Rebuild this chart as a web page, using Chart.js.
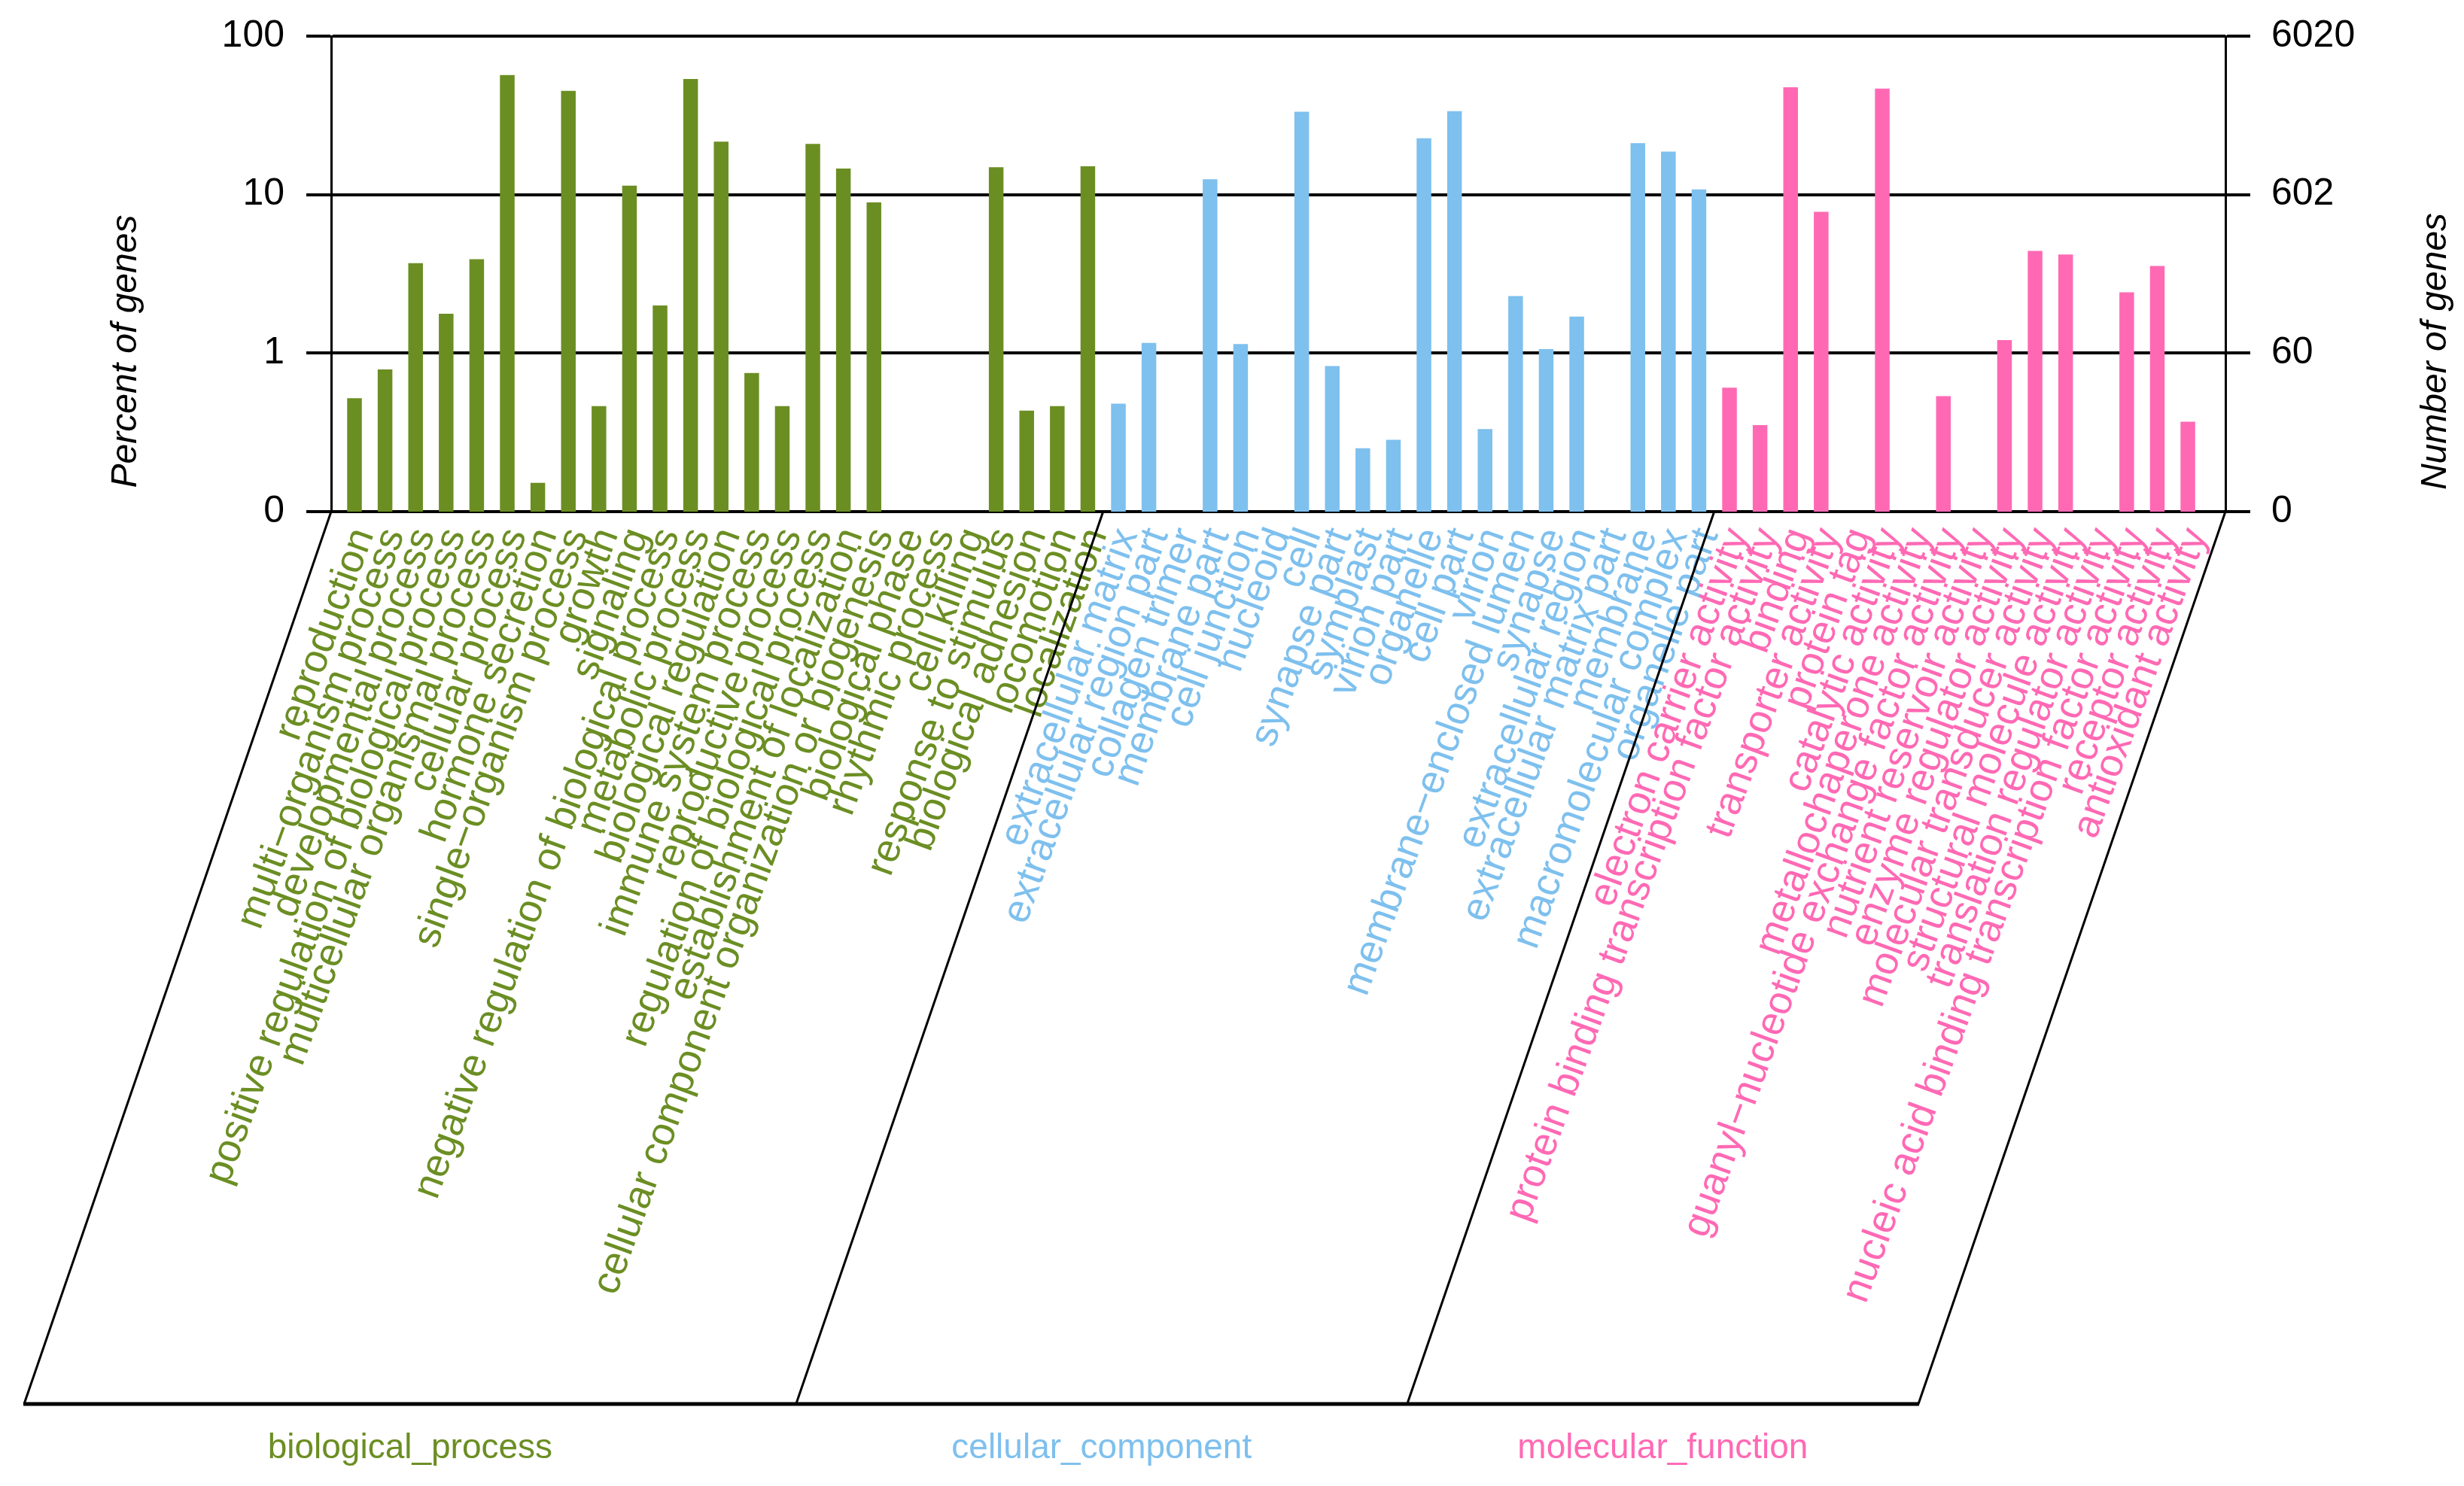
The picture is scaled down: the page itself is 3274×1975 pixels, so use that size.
<!DOCTYPE html>
<html>
<head>
<meta charset="utf-8">
<script src="https://cdn.jsdelivr.net/npm/chart.js@4.4.1/dist/chart.umd.min.js"></script>
<style>
  html, body { margin: 0; padding: 0; background: #fff; }
  #wrap { width: 3274px; height: 1975px; }
</style>
</head>
<body>
<div id="wrap"><canvas id="goChart" width="3274" height="1975"></canvas></div>
<script>
// GO categories, percent of genes (0 = no bar)
const bpLabels = ['reproduction', 'multi\u2212organism process', 'developmental process',
    'positive regulation of biological process', 'multicellular organismal process', 'cellular process',
    'hormone secretion', 'single\u2212organism process', 'growth', 'signaling',
    'negative regulation of biological process', 'metabolic process', 'biological regulation',
    'immune system process', 'reproductive process', 'regulation of biological process',
    'establishment of localization', 'cellular component organization or biogenesis', 'biological phase',
    'rhythmic process', 'cell killing', 'response to stimulus', 'biological adhesion', 'locomotion', 'localization'];
const bpValues = [0.52, 0.79, 3.70, 1.77, 3.91, 56.8, 0.152, 45.1, 0.463, 11.4, 2.00, 53.7, 21.6,
    0.75, 0.463, 20.9, 14.6, 8.92, 0, 0, 0, 14.9, 0.434, 0.463, 15.1];

const ccLabels = ['extracellular matrix', 'extracellular region part', 'collagen trimer', 'membrane part',
    'cell junction', 'nucleoid', 'cell', 'synapse part', 'symplast', 'virion part', 'organelle', 'cell part',
    'virion', 'membrane\u2212enclosed lumen', 'synapse', 'extracellular region', 'extracellular matrix part',
    'membrane', 'macromolecular complex', 'organelle part'];
const ccValues = [0.48, 1.16, 0, 12.5, 1.14, 0, 33.3, 0.83, 0.251, 0.284, 22.7, 33.6, 0.332, 2.29,
    1.06, 1.70, 0, 21.1, 18.7, 10.8];

const mfLabels = ['electron carrier activity', 'protein binding transcription factor activity', 'binding',
    'transporter activity', 'protein tag', 'catalytic activity', 'metallochaperone activity',
    'guanyl\u2212nucleotide exchange factor activity', 'nutrient reservoir activity', 'enzyme regulator activity',
    'molecular transducer activity', 'structural molecule activity', 'translation regulator activity',
    'nucleic acid binding transcription factor activity', 'receptor activity', 'antioxidant activity'];
const mfValues = [0.605, 0.351, 47.6, 7.79, 0, 46.7, 0, 0.536, 0, 1.21, 4.41, 4.19, 0, 2.42, 3.55, 0.369];

const yTicks = [0.1, 1, 10, 100];
const yTickLabels = ['0', '1', '10', '100'];
const y2Ticks = [6.02, 60.2, 602, 6020];
const y2TickLabels = ['0', '60', '602', '6020'];

const groupNames = ['biological_process', 'cellular_component', 'molecular_function'];
const groupColors = ['#6B8E23', '#7EC0EE', '#FF69B4'];

const labels = bpLabels.concat(ccLabels, mfLabels);
const values = bpValues.concat(ccValues, mfValues);
const groupOf = labels.map((_, i) => i < bpLabels.length ? 0 : (i < bpLabels.length + ccLabels.length ? 1 : 2));

Chart.defaults.font.family = '"Liberation Sans", Arial, sans-serif';

// slanted frame under the axis, group names, axis titles
const decor = {
    id: 'decor',
    afterDraw(chart) {
        const { ctx, chartArea, scales } = chart;
        const { left, right, bottom } = chartArea;
        const baseY = 1866;
        const slant = 0.344;
        const tops = [
            left,
            scales.x.getPixelForValue(bpLabels.length - 0.5),
            scales.x.getPixelForValue(bpLabels.length + ccLabels.length - 0.5),
            right
        ];
        const bots = tops.map(t => t - (baseY - bottom) * slant);

        ctx.save();
        ctx.strokeStyle = '#000';
        ctx.lineWidth = 3;
        tops.forEach((t, i) => {
            ctx.beginPath();
            ctx.moveTo(t, bottom);
            ctx.lineTo(bots[i], baseY);
            ctx.stroke();
        });
        ctx.lineWidth = 5;
        ctx.beginPath();
        ctx.moveTo(bots[0] - 1, baseY);
        ctx.lineTo(bots[3] + 1, baseY);
        ctx.stroke();

        ctx.font = '46px "Liberation Sans", Arial, sans-serif';
        ctx.textAlign = 'center';
        ctx.textBaseline = 'middle';
        groupNames.forEach((g, i) => {
            ctx.fillStyle = groupColors[i];
            ctx.fillText(g, (bots[i] + bots[i + 1]) / 2, 1925);
        });

        ctx.fillStyle = '#000';
        ctx.font = 'italic 48px "Liberation Sans", Arial, sans-serif';
        ctx.save();
        ctx.translate(168, 467);
        ctx.rotate(-Math.PI / 2);
        ctx.fillText('Percent of genes', 0, 0);
        ctx.restore();
        ctx.save();
        ctx.translate(3237, 467);
        ctx.rotate(-Math.PI / 2);
        ctx.fillText('Number of genes', 0, 0);
        ctx.restore();
        ctx.restore();
    }
};

// fixed axis box sizes so the plot sits where the original does
const fitY = w => s => { s.width = w; s.paddingTop = 0; s.paddingBottom = 0; };

new Chart(document.getElementById('goChart'), {
    type: 'bar',
    data: {
        datasets: [{
            data: values.map((v, i) => ({ x: i, y: v > 0 ? v : null })),
            backgroundColor: values.map((v, i) => groupColors[groupOf[i]]),
            borderWidth: 0,
            barPercentage: 0.48,
            categoryPercentage: 1
        }]
    },
    options: {
        responsive: false,
        animation: false,
        devicePixelRatio: 1,
        layout: { padding: { top: 48, left: 0, right: 0, bottom: 0 } },
        plugins: { legend: { display: false }, tooltip: { enabled: false } },
        scales: {
            x: {
                type: 'linear',
                offset: false,
                min: -0.764,
                max: 61.23,
                grid: { display: false, drawTicks: false },
                border: { display: false },
                afterBuildTicks: s => { s.ticks = labels.map((_, i) => ({ value: i })); },
                afterFit: s => { s.height = 1975 - 680; },
                ticks: {
                    autoSkip: false,
                    minRotation: 70,
                    maxRotation: 70,
                    padding: 14,
                    labelOffset: 12,
                    font: { size: 53 },
                    color: c => groupColors[groupOf[c.index]],
                    callback: (v, i) => labels[i]
                }
            },
            y: {
                type: 'logarithmic',
                position: 'left',
                min: 0.1,
                max: 100,
                z: 1,
                afterBuildTicks: s => { s.ticks = yTicks.map(v => ({ value: v })); },
                afterFit: fitY(440),
                grid: { color: '#000', lineWidth: 4, tickLength: 33 },
                border: { color: '#000', width: 3 },
                ticks: { padding: 29, color: '#000', font: { size: 50 }, callback: (v, i) => yTickLabels[i] }
            },
            y2: {
                type: 'logarithmic',
                position: 'right',
                min: 6.02,
                max: 6020,
                z: 1,
                afterBuildTicks: s => { s.ticks = y2Ticks.map(v => ({ value: v })); },
                afterFit: fitY(3274 - 2957),
                grid: { drawOnChartArea: false, color: '#000', lineWidth: 4, tickLength: 33 },
                border: { color: '#000', width: 3 },
                ticks: { padding: 28, color: '#000', font: { size: 50 }, callback: (v, i) => y2TickLabels[i] }
            }
        }
    },
    plugins: [decor]
});
</script>
</body>
</html>
